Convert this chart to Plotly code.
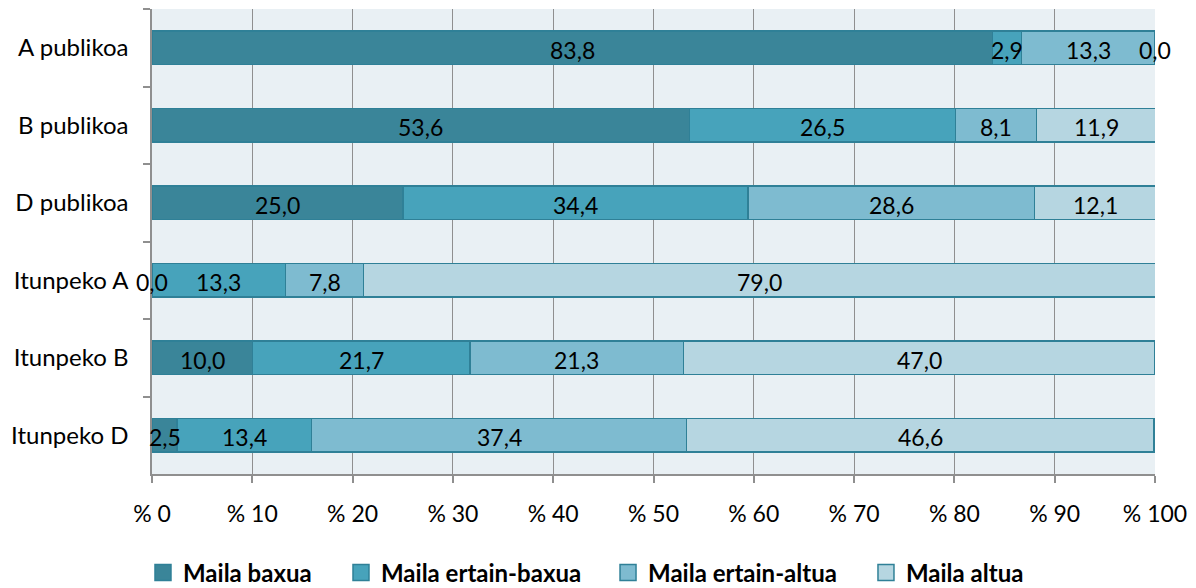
import plotly.graph_objects as go

categories = ["A publikoa", "B publikoa", "D publikoa", "Itunpeko A", "Itunpeko B", "Itunpeko D"]
series_names = ["Maila baxua", "Maila ertain-baxua", "Maila ertain-altua", "Maila altua"]
baxua = [83.8, 53.6, 25.0, 0.0, 10.0, 2.5]
ertain_baxua = [2.9, 26.5, 34.4, 13.3, 21.7, 13.4]
ertain_altua = [13.3, 8.1, 28.6, 7.8, 21.3, 37.4]
altua = [0.0, 11.9, 12.1, 79.0, 47.0, 46.6]
tick_vals = [0, 10, 20, 30, 40, 50, 60, 70, 80, 90, 100]
tick_text = ["% 0", "% 10", "% 20", "% 30", "% 40", "% 50", "% 60", "% 70", "% 80", "% 90", "% 100"]

series = [baxua, ertain_baxua, ertain_altua, altua]
colors = ["#3a8599", "#47a3bb", "#7ebbd0", "#b6d6e1"]
EDGE = "#2f8097"
FONT = "Lato"
legend_ids = ["legend", "legend2", "legend3", "legend4"]
legend_x = [0.1144, 0.2822, 0.5085, 0.7271]

fig = go.Figure()
for name, vals, col in zip(series_names, series, colors):
    fig.add_trace(go.Bar(
        y=categories, x=vals, name=name, orientation="h",
        marker=dict(color=col, line=dict(color=EDGE, width=1.5)),
        hoverinfo="x+y+name", showlegend=False, legendgroup=name,
    ))
# legend-only entries with larger square swatches
for name, col, lid in zip(series_names, colors, legend_ids):
    fig.add_trace(go.Scatter(
        x=[None], y=[None], mode="markers", name=name, legendgroup=name, legend=lid,
        marker=dict(symbol="square", size=18, color=col, line=dict(color=EDGE, width=1.5)),
        hoverinfo="skip",
    ))

annotations = []
cum = [0.0] * len(categories)
for vals in series:
    for i, v in enumerate(vals):
        mid = cum[i] + v / 2.0
        annotations.append(dict(
            x=mid, y=categories[i], xref="x", yref="y",
            text=f"{v:.1f}".replace(".", ","), showarrow=False,
            font=dict(family=FONT, size=23, color="black"),
            xanchor="center", yanchor="middle", yshift=-2,
        ))
        cum[i] += v

legend_common = dict(
    orientation="h", xref="container", yref="container",
    xanchor="left", y=0.026, yanchor="middle",
    font=dict(family=FONT, size=24, color="black", weight="bold"),
    itemwidth=30, bgcolor="rgba(0,0,0,0)",
)
layout_legends = {lid: dict(legend_common, x=lx) for lid, lx in zip(legend_ids, legend_x)}

fig.update_layout(
    barmode="stack",
    bargap=0.57,
    width=1180, height=580,
    margin=dict(l=144, r=33, t=1, b=114),
    paper_bgcolor="white",
    plot_bgcolor="#e9f0f4",
    font=dict(family=FONT, size=23, color="black"),
    annotations=annotations,
    xaxis=dict(
        range=[0, 100], tickvals=tick_vals, ticktext=tick_text,
        showgrid=True, gridcolor="#8f8f8f", gridwidth=1.3,
        showline=True, linecolor="#8f8f8f", linewidth=1.5,
        ticks="outside", ticklen=7, tickcolor="#8f8f8f", tickwidth=1.5,
        tickfont=dict(family=FONT, size=23), zeroline=False, fixedrange=True,
        ticklabelstandoff=12,
    ),
    yaxis=dict(
        autorange="reversed", type="category",
        showline=True, linecolor="#8f8f8f", linewidth=1.5,
        ticks="outside", ticklen=7, tickcolor="#8f8f8f", tickwidth=1.5,
        tickson="boundaries", showgrid=False,
        tickfont=dict(family=FONT, size=24), ticklabelstandoff=17,
    ),
    **layout_legends,
)

fig.write_html("out.html")
